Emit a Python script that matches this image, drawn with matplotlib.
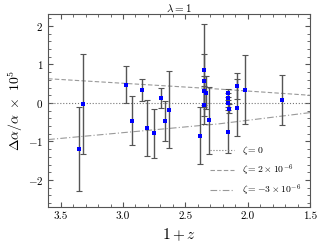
import numpy as np
import matplotlib
matplotlib.use('Agg')
import matplotlib.pyplot as plt
from matplotlib.ticker import MultipleLocator

plt.rcParams['font.family'] = 'serif'
plt.rcParams['font.serif'] = ['cmr10', 'DejaVu Serif']
plt.rcParams['mathtext.fontset'] = 'cm'
plt.rcParams['axes.formatter.use_mathtext'] = True

# данные: 1+z, Δα/α ×1e5 и ошибки
zp1 = [3.349, 3.317, 2.978, 2.93, 2.844, 2.809, 2.748, 2.699, 2.667, 2.629,
       2.379, 2.349, 2.349, 2.349, 2.349, 2.333, 2.312,
       2.158, 2.156, 2.156, 2.154, 2.156, 2.086, 2.086, 2.024, 1.728]
da = [-1.195, -0.036, 0.48, -0.46, 0.33, -0.65, -0.79, 0.14, -0.47, -0.17,
      -0.85, 0.85, 0.58, 0.32, -0.06, 0.27, -0.45,
      0.26, 0.13, -0.01, -0.15, -0.745, 0.44, -0.12, 0.35, 0.08]
err = [1.1, 1.3, 0.47, 0.64, 0.29, 0.72, 0.63, 0.26, 0.53, 1.0,
       0.74, 1.2, 0.69, 0.37, 0.49, 0.43, 0.87,
       0.1, 0.12, 0.1, 0.12, 0.55, 0.34, 0.73, 0.9, 0.65]

# модельные кривые
line_x = [3.6, 2.226, 1.5]
zeta0 = [0.0, 0.0, 0.0]
zeta_p2 = [0.63, 0.36, 0.2]
zeta_m3 = [-0.95, -0.54, -0.25]

fig = plt.figure(figsize=(3.21, 2.49), dpi=100)
ax = fig.add_axes([0.15, 0.169, 0.816, 0.773])

ax.plot(line_x, zeta0, ls=':', color='#777777', lw=0.8, label=r'$\zeta = 0$')
ax.plot(line_x, zeta_p2, ls=(0, (4, 2)), color='#999999', lw=0.8,
        label=r'$\zeta = 2\times10^{-6}$')
ax.plot(line_x, zeta_m3, ls=(0, (6, 2, 1, 2)), color='#999999', lw=0.8,
        label=r'$\zeta = -3\times10^{-6}$')

ax.errorbar(zp1, da, yerr=err, fmt='none', ecolor='#555555',
            elinewidth=1.0, capsize=2.2, capthick=0.8, zorder=3)
ax.plot(zp1, da, 's', color='blue', ms=2.6, mew=0, zorder=4)

ax.set_xlim(3.6, 1.5)
ax.set_ylim(-2.7, 2.3)
ax.xaxis.set_major_locator(MultipleLocator(0.5))
ax.xaxis.set_minor_locator(MultipleLocator(0.1))
ax.yaxis.set_major_locator(MultipleLocator(1))
ax.yaxis.set_minor_locator(MultipleLocator(0.2))
ax.xaxis.set_major_formatter(matplotlib.ticker.FormatStrFormatter('%.1f'))
ax.tick_params(which='both', direction='in', top=True, right=True,
               labelsize=8, color='#555555')
ax.tick_params(which='major', length=3.5)
ax.tick_params(which='minor', length=2)
for s in ax.spines.values():
    s.set_color('#555555')
    s.set_linewidth(0.8)

ax.set_xlabel(r'$1+z$', fontsize=11)
ax.set_ylabel(r'$\Delta\alpha/\alpha\ \times\ 10^5$', fontsize=10, labelpad=2)
ax.set_title(r'$\lambda = 1$', fontsize=8, pad=2)
ax.legend(loc='lower right', frameon=False, fontsize=7, handlelength=2.5,
          labelspacing=0.5)

fig.savefig('out.png', dpi=100)
